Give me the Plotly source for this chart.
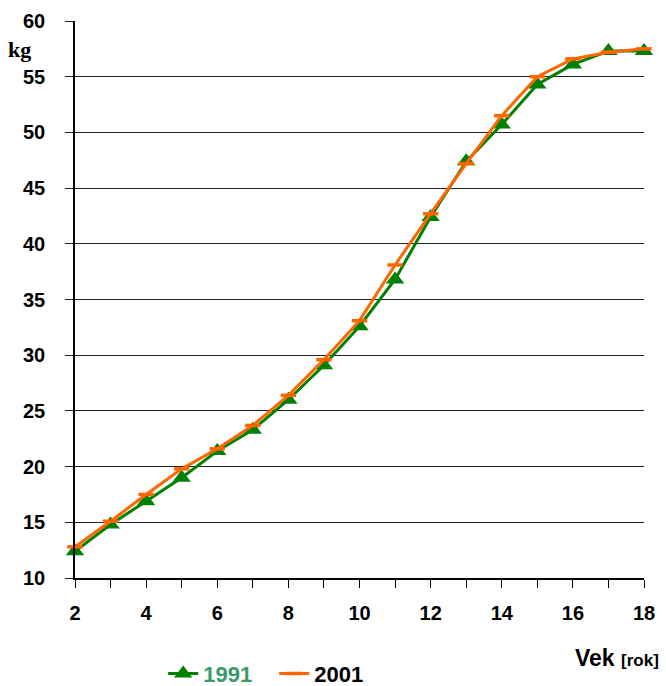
import plotly.graph_objects as go

# Age in years
vek = [2, 3, 4, 5, 6, 7, 8, 9, 10, 11, 12, 13, 14, 15, 16, 17, 18]

# Body weight (kg) by age
hmotnost_1991 = [12.4, 14.8, 16.9, 19.0, 21.4, 23.3, 26.0, 29.1, 32.6, 36.8, 42.4, 47.4, 50.7, 54.3, 56.1, 57.3, 57.3]
hmotnost_2001 = [12.8, 15.1, 17.5, 19.8, 21.6, 23.7, 26.4, 29.6, 33.1, 38.1, 42.7, 47.2, 51.5, 55.0, 56.6, 57.2, 57.5]

y_ticks = [10, 15, 20, 25, 30, 35, 40, 45, 50, 55, 60]
x_ticks = [2, 4, 6, 8, 10, 12, 14, 16, 18]

GREEN = "#008000"
ORANGE = "#FF6600"
FONT = "Liberation Sans, Arial, sans-serif"

fig = go.Figure()
fig.add_trace(go.Scatter(
    x=vek, y=hmotnost_1991, mode="lines+markers",
    name="<span style='color:#3A9A6A'>1991</span>",
    line=dict(color=GREEN, width=3),
    marker=dict(symbol="triangle-up", size=16, color=GREEN),
    cliponaxis=False,
))
fig.add_trace(go.Scatter(
    x=vek, y=hmotnost_2001, mode="lines+markers",
    name="2001",
    line=dict(color=ORANGE, width=3),
    marker=dict(symbol="line-ew", size=11, line=dict(color=ORANGE, width=3.5)),
    cliponaxis=False,
))

tick_font = dict(family=FONT, size=20, weight="bold", color="black")

fig.update_layout(
    width=666, height=686,
    margin=dict(l=75, r=22, t=21, b=108, autoexpand=False),
    plot_bgcolor="white", paper_bgcolor="white",
    font=dict(family=FONT, size=20, color="black"),
    showlegend=True,
    legend=dict(
        orientation="h", x=0.155, y=-0.172, xanchor="left", yanchor="middle",
        font=dict(family=FONT, size=22, weight="bold", color="black"),
        itemwidth=30, tracegroupgap=0, bgcolor="rgba(0,0,0,0)",
        entrywidth=66, entrywidthmode="pixels",
    ),
    xaxis=dict(
        range=[2, 18], tickvals=x_ticks,
        ticks="outside", ticklen=8, tickcolor="black", tickwidth=1,
        minor=dict(dtick=1, ticks="outside", ticklen=8, tickcolor="black", tickwidth=1),
        showline=True, linecolor="black", linewidth=1.5,
        showgrid=False, zeroline=False, ticklabelstandoff=8,
        tickfont=tick_font,
    ),
    yaxis=dict(
        range=[10, 60], tickvals=y_ticks,
        ticks="outside", ticklen=8, tickcolor="#222", tickwidth=1,
        showline=True, linecolor="black", linewidth=1.5,
        showgrid=True, gridcolor="#222", gridwidth=1, zeroline=False,
        ticklabelstandoff=16,
        tickfont=tick_font,
    ),
    annotations=[
        dict(text="kg", xref="paper", yref="paper", x=-0.122, y=0.948,
             xanchor="left", yanchor="middle", showarrow=False,
             font=dict(family="Liberation Serif, Times New Roman, serif", size=22, weight="bold")),
        dict(text="Vek <span style='font-size:17px'>[rok]</span>", xref="paper", yref="paper",
             x=1.03, y=-0.143, xanchor="right", yanchor="middle", showarrow=False,
             font=dict(family=FONT, size=23, weight="bold")),
    ],
)

fig.write_html("out.html")
